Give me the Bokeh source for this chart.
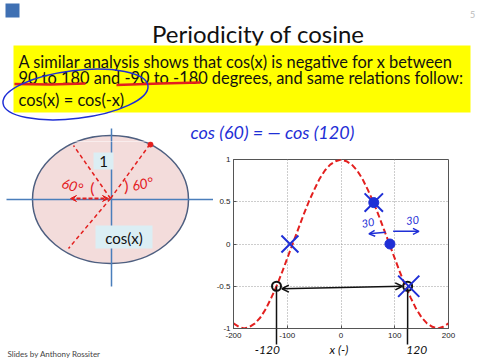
from bokeh.plotting import figure
from bokeh.models import Range1d, FixedTicker, NumeralTickFormatter, Arrow, OpenHead, VeeHead, Label
from bokeh.layouts import column, row
from bokeh.core.properties import value
from bokeh.embed import file_html
from bokeh.resources import INLINE

# ---------------- data ----------------
angle_deg = [-200, -190, -180, -170, -160, -150, -140, -130, -120, -110, -100,
             -90, -80, -70, -60, -50, -40, -30, -20, -10, 0,
             10, 20, 30, 40, 50, 60, 70, 80, 90, 100,
             110, 120, 130, 140, 150, 160, 170, 180, 190, 200]
cos_values = [-0.94, -0.98, -1.00, -0.98, -0.94, -0.87, -0.77, -0.64, -0.50, -0.34, -0.17,
              0.00, 0.17, 0.34, 0.50, 0.64, 0.77, 0.87, 0.94, 0.98, 1.00,
              0.98, 0.94, 0.87, 0.77, 0.64, 0.50, 0.34, 0.17, 0.00, -0.17,
              -0.34, -0.50, -0.64, -0.77, -0.87, -0.94, -0.98, -1.00, -0.98, -0.94]
x_ticks = [-200, -100, 0, 100, 200]
y_ticks = [-1, -0.5, 0, 0.5, 1]

cross_x = [-95, 61, 126]
cross_y = [0.0, 0.49, -0.5]
dot_x = [61, 91]
dot_y = [0.49, 0.0]
ring_x = [-120, 124]
ring_y = [-0.5, -0.5]

title_text = "Periodicity of cosine"
body_lines = ["A similar analysis shows that cos(x) is negative for x between",
              "90 to 180 and -90 to -180 degrees, and same relations follow:",
              "cos(x) = cos(-x)"]
note_text = "cos (60) = \u2014 cos (120)"
footer_text = "Slides by Anthony Rossiter"
under_axis_note = "-120" + "\u2003" * 6 + "x (-)" + "\u2003" * 7 + "120"

FONT_NAME = "Lato"
SLIDE_FONT = value(FONT_NAME)
HAND_BLUE = "#1f2fd6"
RED = "#e3201f"
SPLIT = 141  # slide y where the top strip ends


def blank(w, h, xr, yr):
    p = figure(width=w, height=h, x_range=Range1d(*xr), y_range=Range1d(*yr),
               output_backend="svg", toolbar_location=None,
               x_axis_location=None, y_axis_location=None)
    p.frame_align = False
    p.min_border_left = p.min_border_right = 0
    p.min_border_top = p.min_border_bottom = 0
    p.grid.visible = False
    p.outline_line_color = None
    p.background_fill_color = "white"
    p.border_fill_color = "white"
    return p


def circle_sketch_base(fig):
    fig.ellipse(x=110, y=199, width=156, height=128, fill_color="#f3dcdb",
                line_color="#4e5f80", line_width=1.5)
    fig.line(x=[6, 213], y=[199, 199], line_color="#4a7ebb", line_width=1.5)
    fig.line(x=[111, 111], y=[128, 286], line_color="#4a7ebb", line_width=1.5)


# ---------------- top strip: title + yellow box ----------------
top = blank(480, SPLIT, (0, 480), (SPLIT, 0))
top.quad(left=5, right=19, top=3, bottom=17, fill_color="#3f70b3", line_color=None)
top.text(x=[472], y=[14], text=["5"], text_font=SLIDE_FONT, text_font_size="9px",
         text_align="center", text_baseline="alphabetic", text_color="#bbbbbb")
top.text(x=[258], y=[33], text=[title_text], text_font=SLIDE_FONT, text_font_size="24px",
         text_align="center", text_baseline="alphabetic", text_color="#111111")
top.quad(left=13, right=470, top=45, bottom=112, fill_color="#ffff00", line_color=None)
top.text(x=[18, 18, 18], y=[61, 77, 99], text=body_lines, text_font=SLIDE_FONT,
         text_font_size="16.4px", text_align="left", text_baseline="alphabetic",
         text_color="#111111")
top.line(x=[14, 50, 85], y=[83.5, 84, 83], line_color=RED, line_width=2.5)
top.line(x=[116, 160, 200], y=[84.5, 83, 82], line_color=RED, line_width=2.5)
top.ellipse(x=75, y=94, width=146, height=48, angle=0.12, fill_color=None,
            line_color=HAND_BLUE, line_width=1.5)
top.text(x=[190], y=[131], text=[note_text], text_font=SLIDE_FONT, text_font_size="18px",
         text_font_style="italic", text_align="left", text_baseline="alphabetic",
         text_color=HAND_BLUE)
circle_sketch_base(top)

# ---------------- left: unit-circle sketch ----------------
left = blank(213, 360 - SPLIT, (0, 213), (360, SPLIT))
circle_sketch_base(left)
left.quad(left=93, right=113, top=152, bottom=169, fill_color="#dbeef4", line_color=None)
left.quad(left=95, right=152, top=225, bottom=248, fill_color="#dbeef4", line_color=None)
left.text(x=[103, 123.5], y=[161, 237], text=["1", "cos(x)"], text_font=SLIDE_FONT,
          text_font_size="15px", text_align="center", text_baseline="middle",
          text_color="#111111")
left.segment(x0=[110, 110, 110], y0=[198, 198, 198], x1=[73, 68, 150], y1=[145, 248, 143],
             line_color=RED, line_width=1.5, line_dash="4 3")
left.scatter(x=[150], y=[144], size=5, fill_color=RED, line_color=RED)
left.add_layout(Arrow(start=VeeHead(size=6, fill_color=RED, line_color=RED),
                      end=VeeHead(size=6, fill_color=RED, line_color=RED),
                      x_start=70, y_start=198, x_end=108, y_end=198,
                      line_color=RED, line_width=2, line_dash="4 2"))
left.text(x=[72, 142], y=[185, 183], text=["60\u00b0", "60\u00b0"], text_font=SLIDE_FONT,
          text_font_size="14px", text_font_style="italic", text_align="center",
          text_baseline="middle", text_color=RED, angle=[-0.3, 0.2])
left.text(x=[92, 126], y=[187, 185], text=["(", ")"], text_font=SLIDE_FONT,
          text_font_size="16px", text_align="center", text_baseline="middle",
          text_color=RED)
left.text(x=[7], y=[353], text=[footer_text], text_font=SLIDE_FONT, text_font_size="8px",
          text_align="left", text_baseline="alphabetic", text_color="#444444")

# ---------------- right: the cosine plot ----------------
p = figure(width=267, height=360 - SPLIT, x_range=Range1d(-200, 200), y_range=Range1d(-1, 1),
           output_backend="svg", toolbar_location=None)
p.frame_align = False
p.min_border_left = 19
p.min_border_right = 32
p.min_border_top = 159 - SPLIT
p.min_border_bottom = 32
p.background_fill_color = "white"
p.border_fill_color = "white"
p.outline_line_color = "#555555"
p.outline_line_width = 1
p.xaxis.ticker = FixedTicker(ticks=x_ticks, minor_ticks=ring_x)
p.yaxis.ticker = FixedTicker(ticks=y_ticks)
p.xaxis.formatter = NumeralTickFormatter(format="0.[0]")
p.yaxis.formatter = NumeralTickFormatter(format="0.[0]")
for ax in (p.xaxis[0], p.yaxis[0]):
    ax.major_tick_in = 3
    ax.major_tick_out = 0
    ax.minor_tick_line_color = None
    ax.axis_line_color = "#555555"
    ax.major_tick_line_color = "#555555"
    ax.major_label_text_font = "Liberation Sans"
    ax.major_label_text_font_size = "8px"
    ax.major_label_text_color = "#222222"
    ax.major_label_standoff = 3
# hand-drawn guide lines continue below the axis (as the x axis' minor ticks)
xa = p.xaxis[0]
xa.minor_tick_line_color = "#111111"
xa.minor_tick_line_width = 1.5
xa.minor_tick_in = 0
xa.minor_tick_out = 16
xa.major_label_standoff = -12
xa.axis_label = under_axis_note
xa.axis_label_text_font = FONT_NAME
xa.axis_label_text_font_size = "12px"
xa.axis_label_text_font_style = "italic"
xa.axis_label_text_color = "#111111"
xa.axis_label_standoff = 1

p.grid.grid_line_color = "#9a9a9a"
p.grid.grid_line_dash = "1 2"
p.grid.grid_line_width = 1

p.line(angle_deg, cos_values, line_color=RED, line_width=2, line_dash="6 3")

# handwriting marks
p.add_layout(Arrow(start=OpenHead(size=7, line_color="#111111", line_width=1.5),
                   end=OpenHead(size=7, line_color="#111111", line_width=1.5),
                   x_start=-110, y_start=-0.53, x_end=114, y_end=-0.5,
                   line_color="#111111", line_width=1.5))
p.segment(x0=ring_x, y0=ring_y, x1=ring_x, y1=[-1, -1], line_color="#111111",
          line_width=1.5)
p.scatter(ring_x, ring_y, marker="circle", size=9, fill_color=None,
          line_color="#111111", line_width=2)
p.scatter(cross_x, cross_y, marker="x", size=[24, 26, 30], line_color=HAND_BLUE, line_width=2)
p.scatter(dot_x, dot_y, marker="circle", size=10, fill_color=HAND_BLUE,
          line_color=HAND_BLUE)
p.add_layout(Arrow(end=OpenHead(size=6, line_color=HAND_BLUE, line_width=1.5),
                   x_start=83, y_start=0.14, x_end=52, y_end=0.12,
                   line_color=HAND_BLUE, line_width=1.5))
p.add_layout(Arrow(end=OpenHead(size=6, line_color=HAND_BLUE, line_width=1.5),
                   x_start=97, y_start=0.15, x_end=145, y_end=0.15,
                   line_color=HAND_BLUE, line_width=1.5))
for tx, ty, tt, ang in [(50, 0.25, "30", 0.2), (133, 0.28, "30", 0.1)]:
    p.add_layout(Label(x=tx, y=ty, text=tt, text_font=FONT_NAME, text_font_size="11px",
                       text_font_style="italic", text_color=HAND_BLUE, text_align="center",
                       text_baseline="middle", angle=ang))

layout = column(top, row(left, p))
open("out.html", "w").write(file_html(layout, INLINE))
